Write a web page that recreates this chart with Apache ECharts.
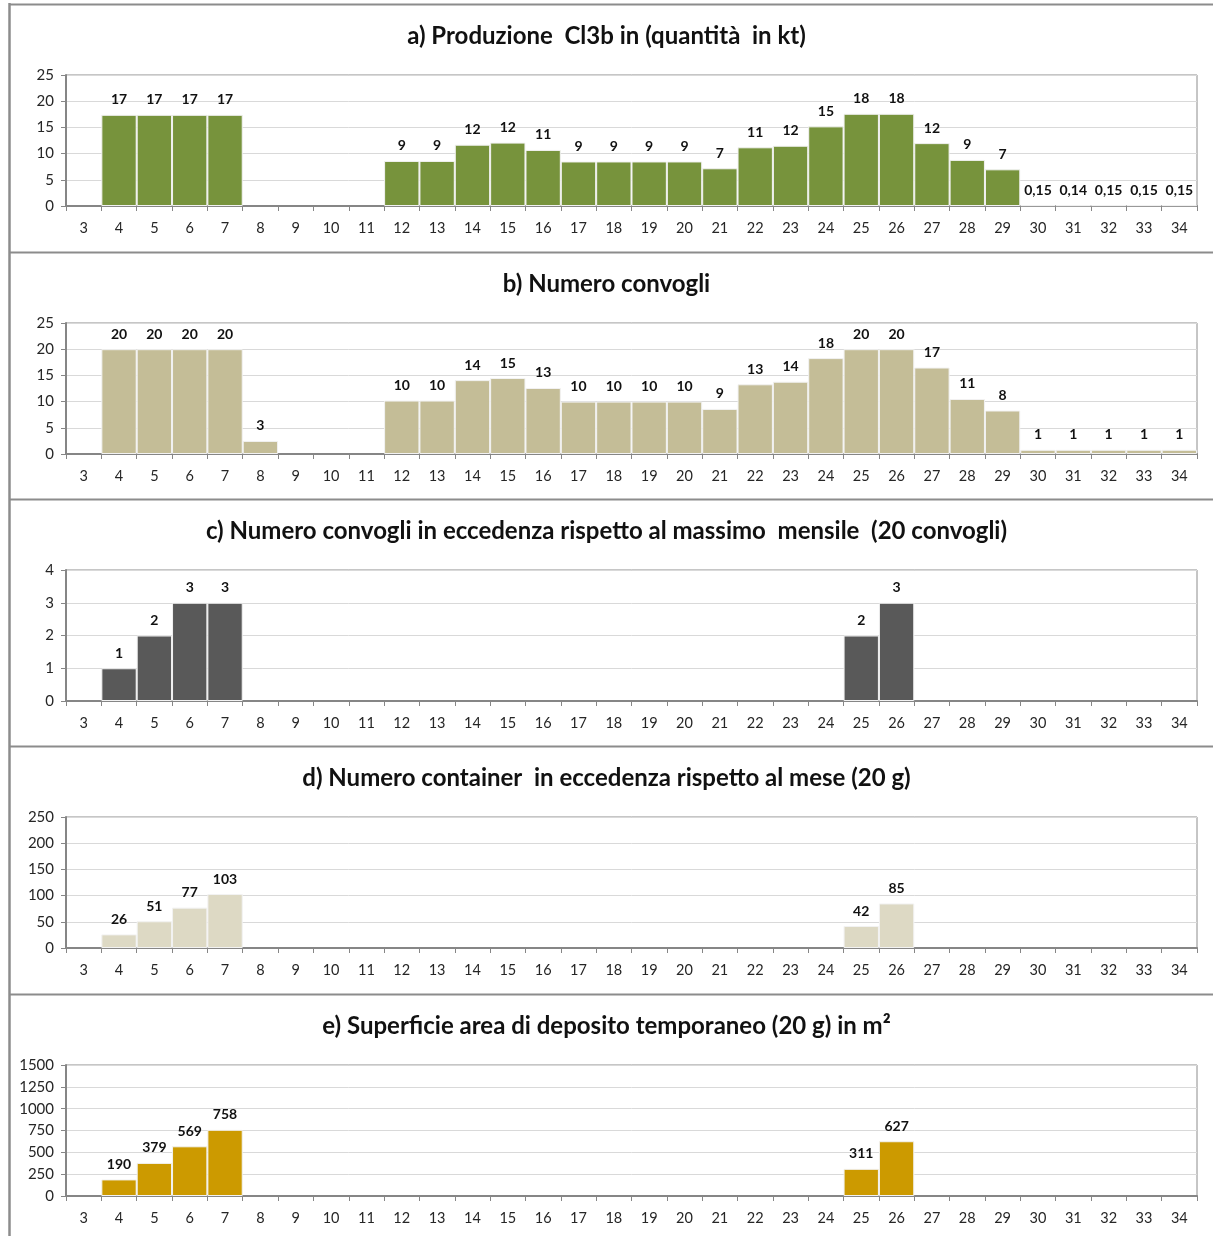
<!DOCTYPE html>
<html>
<head>
<meta charset="utf-8">
<script src="https://cdn.jsdelivr.net/npm/echarts@6/dist/echarts.min.js"></script>
<style>
html,body{margin:0;padding:0;background:#fff;}
#c{width:1213px;height:1236px;}
</style>
</head>
<body>
<div id="c"></div>
<script>
// Categories (months)
const categories = ['3','4','5','6','7','8','9','10','11','12','13','14','15','16','17','18','19','20','21','22','23','24','25','26','27','28','29','30','31','32','33','34'];

// a) Produzione Cl3b (kt)
const produzione = [null,17.4,17.4,17.4,17.4,null,null,null,null,8.6,8.6,11.7,12.1,10.7,8.5,8.5,8.5,8.5,7.2,11.2,11.5,15.2,17.6,17.6,12.0,8.8,7.0,0.15,0.14,0.15,0.15,0.15];
// b) Numero convogli
const convogli = [null,20,20,20,20,2.5,null,null,null,10.2,10.2,14.1,14.5,12.6,10.0,10.0,10.0,10.0,8.6,13.3,13.8,18.3,20,20,16.5,10.5,8.3,0.8,0.8,0.8,0.8,0.8];
// c) Convogli in eccedenza
const eccedenzaConvogli = [null,1,2,3,3,null,null,null,null,null,null,null,null,null,null,null,null,null,null,null,null,null,2,3,null,null,null,null,null,null,null,null];
// d) Container in eccedenza
const eccedenzaContainer = [null,26,51,77,103,null,null,null,null,null,null,null,null,null,null,null,null,null,null,null,null,null,42,85,null,null,null,null,null,null,null,null];
// e) Superficie area deposito (m2)
const superficie = [null,190,379,569,758,null,null,null,null,null,null,null,null,null,null,null,null,null,null,null,null,null,311,627,null,null,null,null,null,null,null,null];

const titles = [
  'a) Produzione  Cl3b in (quantità  in kt)',
  'b) Numero convogli',
  'c) Numero convogli in eccedenza rispetto al massimo  mensile  (20 convogli)',
  'd) Numero container  in eccedenza rispetto al mese (20 g)',
  'e) Superficie area di deposito temporaneo (20 g) in m²'
];
const seriesData = [produzione, convogli, eccedenzaConvogli, eccedenzaContainer, superficie];
const colors = ['#77933C','#C4BD97','#595959','#DDD9C4','#CC9A00'];
const yMax = [25,25,4,250,1500];
const yInt = [5,5,1,50,250];

const panelTops = [4,252,499,746,994];
const FONT = 'Lato, "Open Sans", sans-serif';

const grids=[], xAxes=[], yAxes=[], series=[], titleArr=[], graphics=[];
panelTops.forEach((p,i)=>{
  grids.push({left:66,right:16,top:p+71,height:131,show:true,borderColor:'#8c8c8c',borderWidth:1,containLabel:false});
  xAxes.push({
    type:'category',gridIndex:i,data:categories,boundaryGap:true,
    axisLine:{lineStyle:{color:'#868686',width:2}},
    axisTick:{show:true,length:5,lineStyle:{color:'#868686',width:1}},
    axisLabel:{color:'#262626',fontSize:14.5,fontFamily:FONT,margin:15,interval:0}
  });
  yAxes.push({
    type:'value',gridIndex:i,min:0,max:yMax[i],interval:yInt[i],
    axisLine:{show:true,lineStyle:{color:'#868686',width:2}},
    axisTick:{show:true,length:5,lineStyle:{color:'#868686'}},
    splitLine:{show:true,lineStyle:{color:'#d9d9d9',width:1}},
    axisLabel:{color:'#262626',fontSize:15,fontFamily:FONT,margin:12,formatter:(v)=>String(v)}
  });
  series.push({
    type:'bar',xAxisIndex:i,yAxisIndex:i,data:seriesData[i],
    barCategoryGap:'0%',
    itemStyle:{color:colors[i],borderColor:'#f2f2f2',borderWidth:1},
    label:{show:true,position:'top',distance:8,color:'#111',fontWeight:'bold',fontSize:14,fontFamily:FONT,
      formatter:(prm)=>{const v=prm.value; if(v==null) return ''; if(v<0.5) return v.toFixed(2).replace('.',','); return String(Math.round(v));}},
    emphasis:{disabled:true},
    silent:true
  });
  titleArr.push({text:titles[i],left:'center',top:p+20,padding:0,
    textStyle:{fontFamily:FONT,fontSize:24,fontWeight:'bold',color:'#111'}});
  graphics.push({type:'line',shape:{x1:9,y1:p+0.5,x2:1213,y2:p+0.5},style:{stroke:'#8c8c8c',lineWidth:2},silent:true});
});
graphics.push({type:'line',shape:{x1:9.5,y1:3,x2:9.5,y2:1236},style:{stroke:'#8c8c8c',lineWidth:2.5},silent:true});

const chart = echarts.init(document.getElementById('c'),null,{renderer:'canvas'});
chart.setOption({
  animation:false,
  backgroundColor:'#fff',
  title:titleArr,
  grid:grids,
  xAxis:xAxes,
  yAxis:yAxes,
  series:series,
  graphic:graphics
});
</script>
</body>
</html>
